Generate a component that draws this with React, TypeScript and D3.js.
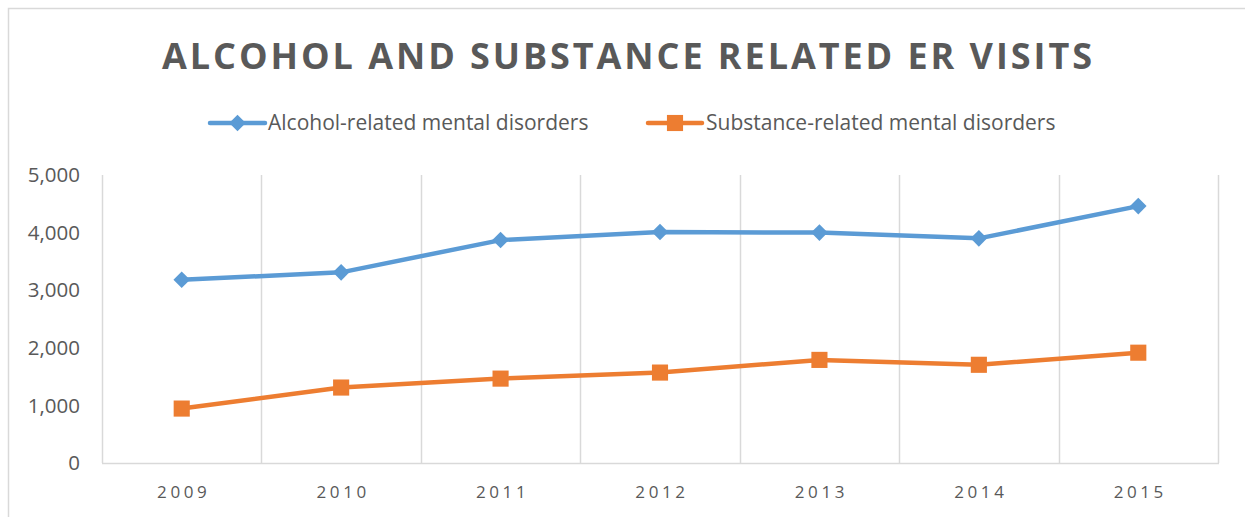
import { useEffect, useRef } from "react";
import * as d3 from "d3";

const years = ["2009", "2010", "2011", "2012", "2013", "2014", "2015"];
const alcoholValues = [3180, 3310, 3870, 4010, 4000, 3900, 4460];
const substanceValues = [945, 1310, 1465, 1570, 1790, 1705, 1915];
const yTicks = [0, 1000, 2000, 3000, 4000, 5000];

const seriesNames = ["Alcohol-related mental disorders", "Substance-related mental disorders"];
const seriesColors = ["#5B9BD5", "#ED7D31"];

const App = () => {
  const svgRef = useRef<SVGSVGElement>(null);

  useEffect(() => {
    if (!svgRef.current) return;
    const svg = d3.select(svgRef.current);
    svg.selectAll("*").remove();

    const W = 1245;
    const H = 517;
    const plot = { left: 102, right: 1218, top: 175, bottom: 463 };
    const textColor = "#595959";
    const gridColor = "#D9D9D9";
    const font = "'Open Sans', 'Liberation Sans', sans-serif";

    svg.attr("width", W).attr("height", H);

    svg.append("rect").attr("width", W).attr("height", H).attr("fill", "#fff");

    // outer chart border
    svg.append("rect")
      .attr("x", 8.5).attr("y", 8.5)
      .attr("width", W).attr("height", H)
      .attr("fill", "none")
      .attr("stroke", gridColor)
      .attr("stroke-width", 1.5);

    // Title
    svg.append("text")
      .attr("x", 627)
      .attr("y", 69)
      .attr("text-anchor", "middle")
      .attr("textLength", 930)
      .attr("lengthAdjust", "spacing")
      .style("font-family", font)
      .style("font-weight", "700")
      .style("font-size", "36px")
      .style("fill", textColor)
      .text("ALCOHOL AND SUBSTANCE RELATED ER VISITS");

    // Scales
    const x = d3.scaleBand()
      .domain(years)
      .range([plot.left, plot.right])
      .padding(0);

    const y = d3.scaleLinear()
      .domain([0, 5000])
      .range([plot.bottom, plot.top]);

    // vertical gridlines at category boundaries
    const bounds = years.map(d => x(d) || 0).concat([plot.right]);
    svg.append("g")
      .selectAll("line")
      .data(bounds)
      .enter()
      .append("line")
      .attr("x1", d => Math.round(d) + 0.5)
      .attr("x2", d => Math.round(d) + 0.5)
      .attr("y1", plot.top)
      .attr("y2", plot.bottom)
      .attr("stroke", gridColor)
      .attr("stroke-width", 1.5);

    // baseline
    svg.append("line")
      .attr("x1", plot.left)
      .attr("x2", plot.right + 1)
      .attr("y1", y(0) + 0.5)
      .attr("y2", y(0) + 0.5)
      .attr("stroke", gridColor)
      .attr("stroke-width", 1.5);

    // Y tick labels
    svg.append("g")
      .selectAll("text")
      .data(yTicks)
      .enter()
      .append("text")
      .attr("x", 80)
      .attr("y", d => y(d))
      .attr("dy", "0.35em")
      .attr("text-anchor", "end")
      .style("font-family", font)
      .style("font-size", "20.5px")
      .style("fill", textColor)
      .text(d => d3.format(",")(d));

    // X tick labels
    svg.append("g")
      .selectAll("text")
      .data(years)
      .enter()
      .append("text")
      .attr("x", d => (x(d) || 0) + x.bandwidth() / 2 + 2)
      .attr("y", 498)
      .attr("text-anchor", "middle")
      .style("font-family", font)
      .style("font-size", "17px")
      .style("letter-spacing", "3.6px")
      .style("fill", textColor)
      .text(d => d);

    const cx = (d: string) => (x(d) || 0) + x.bandwidth() / 2;
    const line = d3.line<number>()
      .x((_, i) => cx(years[i]))
      .y(d => y(d));

    const diamond = d3.symbol().type(d3.symbolDiamond2).size(175);
    const square = d3.symbol().type(d3.symbolSquare).size(260);

    const allSeries = [alcoholValues, substanceValues];

    allSeries.forEach((vals, si) => {
      svg.append("path")
        .datum(vals)
        .attr("d", line)
        .attr("fill", "none")
        .attr("stroke", seriesColors[si])
        .attr("stroke-width", 4.5)
        .attr("stroke-linejoin", "round")
        .attr("stroke-linecap", "round");

      const sym = si === 0 ? diamond : square;

      svg.append("g")
        .selectAll("path")
        .data(vals)
        .enter()
        .append("path")
        .attr("d", sym() as string)
        .attr("transform", (d, i) => `translate(${cx(years[i])},${y(d)})`)
        .attr("fill", seriesColors[si]);
    });

    // Legend
    const legendItems = [
      { x0: 210, x1: 265, tx: 268 },
      { x0: 648, x1: 702, tx: 706 },
    ];
    const ly = 123;
    legendItems.forEach((it, si) => {
      const g = svg.append("g");
      g.append("line")
        .attr("x1", it.x0).attr("x2", it.x1)
        .attr("y1", ly).attr("y2", ly)
        .attr("stroke", seriesColors[si])
        .attr("stroke-width", 4.5)
        .attr("stroke-linecap", "round");
      const sym = si === 0 ? diamond : square;
      g.append("path")
        .attr("d", sym() as string)
        .attr("transform", `translate(${(it.x0 + it.x1) / 2},${ly})`)
        .attr("fill", seriesColors[si]);
      g.append("text")
        .attr("x", it.tx)
        .attr("y", ly)
        .attr("dy", "0.35em")
        .style("font-family", font)
        .style("font-size", "21px")
        .style("fill", textColor)
        .text(seriesNames[si]);
    });
  }, []);

  return (
    <div style={{ position: "absolute", left: 0, top: 0 }}>
      <svg ref={svgRef} style={{ display: "block" }} />
    </div>
  );
};

export default App;
